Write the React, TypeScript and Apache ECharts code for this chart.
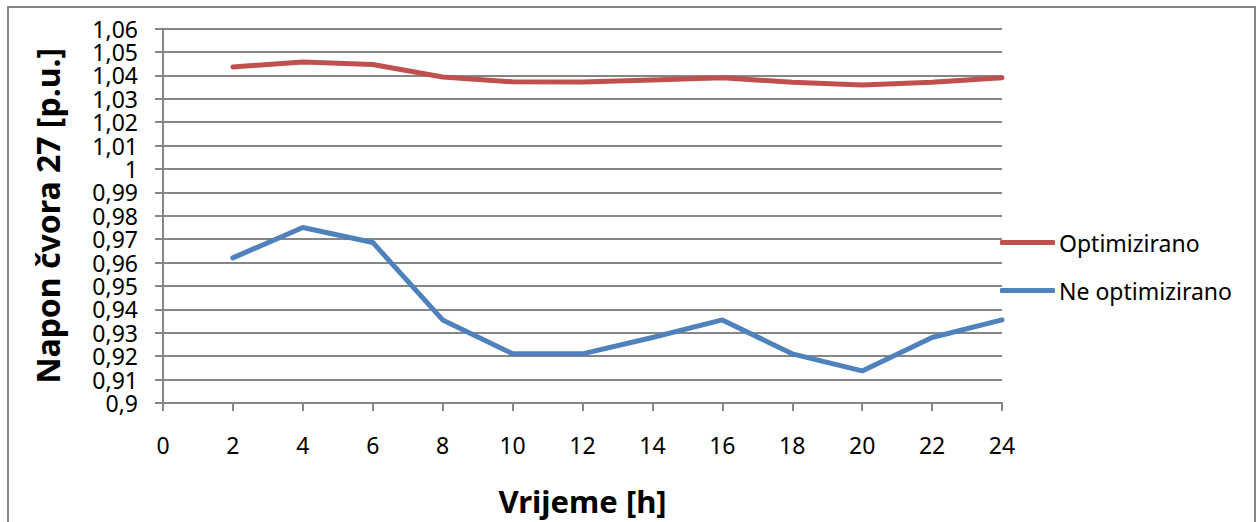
import React, { useRef, useEffect } from "react";
import * as echarts from "echarts";

const hours = [2, 4, 6, 8, 10, 12, 14, 16, 18, 20, 22, 24];
const optimizirano = [1.0436, 1.0457, 1.0446, 1.0393, 1.0372, 1.0371, 1.038, 1.039, 1.037, 1.0359, 1.037, 1.039];
const neOptimizirano = [0.962, 0.975, 0.9686, 0.9355, 0.921, 0.921, 0.928, 0.9355, 0.921, 0.9137, 0.928, 0.9355];

const FONT = "'Noto Sans', sans-serif";
const GREY = "#868686";

export default function App() {
  const chartRef = useRef<HTMLDivElement>(null);

  useEffect(() => {
    if (!chartRef.current) return;
    const chart = echarts.init(chartRef.current, undefined, { renderer: "svg" });

    chart.setOption({
      animation: false,
      backgroundColor: "#ffffff",
      textStyle: { fontFamily: FONT, color: "#000000" },
      graphic: [
        {
          type: "rect",
          silent: true,
          z: -1,
          shape: { x: 8, y: 7, width: 1247, height: 530 },
          style: { fill: "none", stroke: GREY, lineWidth: 2 },
        },
      ],
      grid: { left: 163, right: 255, top: 28.5, bottom: 119, outerBoundsMode: "none" },
      legend: {
        orient: "vertical",
        left: 995,
        top: 224,
        icon: "roundRect",
        itemWidth: 55,
        itemHeight: 5,
        itemGap: 21,
        textStyle: { fontFamily: FONT, fontSize: 23, lineHeight: 27, color: "#000000", padding: [0, 0, 0, -1] },
        data: ["Optimizirano", "Ne optimizirano"],
      },
      xAxis: {
        type: "value",
        min: 0,
        max: 24,
        interval: 2,
        name: "Vrijeme [h]",
        nameLocation: "middle",
        nameGap: 82,
        nameTextStyle: { fontFamily: FONT, fontSize: 31, fontWeight: "bold", color: "#000000" },
        axisLine: { show: true, onZero: false, lineStyle: { color: GREY, width: 2 } },
        axisTick: { show: true, length: 8, lineStyle: { color: GREY, width: 2 } },
        axisLabel: { fontFamily: FONT, fontSize: 23, color: "#000000", margin: 30 },
        splitLine: { show: false },
      },
      yAxis: {
        type: "value",
        min: 0.9,
        max: 1.06,
        interval: 0.01,
        name: "Napon čvora 27 [p.u.]",
        nameLocation: "middle",
        nameGap: 100,
        nameTextStyle: { fontFamily: FONT, fontSize: 32, fontWeight: "bold", color: "#000000" },
        axisLine: { show: true, onZero: false, lineStyle: { color: GREY, width: 2 } },
        axisTick: { show: true, length: 8, lineStyle: { color: GREY, width: 2 } },
        axisLabel: {
          fontFamily: FONT,
          fontSize: 23,
          lineHeight: 19,
          padding: [0, 0, 3, 0],
          color: "#000000",
          margin: 25,
          formatter: (v: number) => String(parseFloat(v.toFixed(2))).replace(".", ","),
        },
        splitLine: { show: true, lineStyle: { color: GREY, width: 2 } },
      },
      series: [
        {
          name: "Optimizirano",
          type: "line",
          data: hours.map((h, i) => [h, optimizirano[i]]),
          symbol: "none",
          color: "#C0504D",
          lineStyle: { width: 5, cap: "round", join: "round" },
        },
        {
          name: "Ne optimizirano",
          type: "line",
          data: hours.map((h, i) => [h, neOptimizirano[i]]),
          symbol: "none",
          color: "#4F81BD",
          lineStyle: { width: 5, cap: "round", join: "round" },
        },
      ],
    });

    return () => chart.dispose();
  }, []);

  return <div ref={chartRef} style={{ position: "absolute", left: 0, top: 0, width: 1257, height: 522 }} />;
}
